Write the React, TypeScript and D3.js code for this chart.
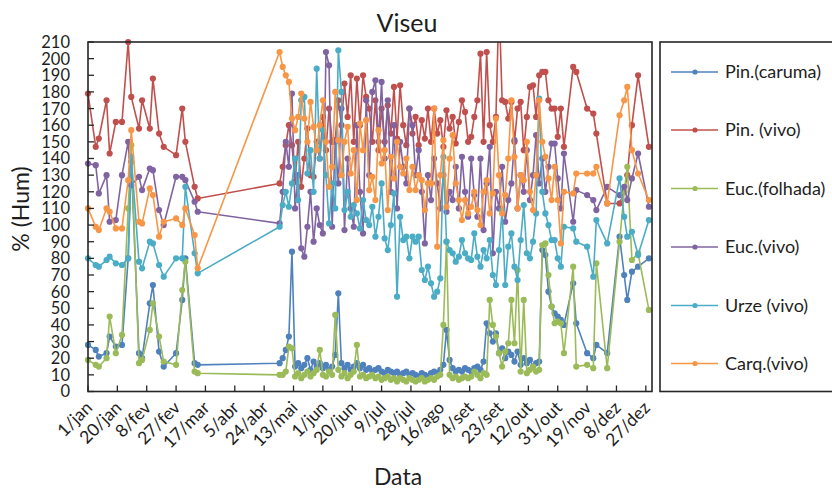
import React from "react";
import * as d3 from "d3";

// Day of year (2016, leap year; 0 = 1/jan)
const DAYS = [
  0, 5, 7, 12, 14, 18, 22, 26, 28, 33, 35, 40, 42, 46, 49, 57, 61, 63, 69, 71,
  124,
  126, 128, 130, 132, 134, 136, 138, 140, 142, 144, 146, 148, 150, 152, 154, 156, 158, 160, 162, 164,
  166, 168, 170, 172, 174, 176, 178, 180, 182, 184, 186, 188, 190, 192, 194, 196, 198, 200, 202, 204,
  206, 208, 210, 212, 214, 216, 218, 220, 222, 224, 226, 228, 230, 232, 234, 236, 238, 240, 242, 244, 246,
  248, 250, 252, 254, 256, 258, 260, 262, 264, 266, 268, 270, 272, 274, 276, 278, 280, 282, 284, 286,
  288, 290, 292, 294, 296, 298, 300,
  302, 304, 306, 308, 314, 316, 323, 327, 329, 336, 344, 347, 349, 352, 356, 363,
];

const PIN_CARUMA = [
  28, 25, 21, 23, 33, 27, 28, 80, 138, 23, 20, 53, 64, 24, 15, 23, 55, 80, 17, 16,
  17,
  20, 25, 33, 84, 15, 17, 14, 16, 20, 13, 18, 15, 17, 14, 16, 13, 15, 22, 59, 17,
  14, 16, 13, 15, 17, 14, 16, 13, 14, 12, 13, 14, 12, 11, 13, 12, 11, 12, 10, 11,
  12, 10, 11, 10, 9, 11, 10, 9, 11, 12, 11, 13, 16, 37, 19, 14, 12, 13, 12, 14, 13,
  12, 14, 15, 13, 18, 41, 35, 30, 35, 23, 26, 20, 24, 22, 18, 24, 16, 20, 17, 19,
  15, 17, 18, 85, 82, 60, 51,
  47, 45, 43, 40, 65, 41, 23, 20, 28, 23, 93, 70, 55, 72, 75, 80,
];

const PIN_VIVO = [
  179, 147, 152, 175, 143, 162, 162, 210, 177, 158, 175, 158, 188, 155, 147, 142, 170, 150, 123, 116,
  125,
  135, 148, 160, 148, 126, 150, 123, 140, 158, 130, 129, 150, 140, 165, 145, 170, 150, 151, 175, 160,
  185, 165, 190, 150, 188, 160, 190, 177, 170, 150, 175, 145, 170, 150, 172, 155, 183, 152, 184, 160,
  148, 170, 155, 165, 148, 163, 152, 170, 150, 170, 155, 163, 147, 169, 158, 165, 149, 162, 175, 168, 150,
  153, 165, 175, 203, 150, 204, 160, 150, 165, 235, 175, 174, 164, 174, 150, 170, 174, 145, 165, 183,
  184, 165, 190, 192, 192, 175, 170,
  170, 153, 170, 147, 195, 192, 170, 167, 155, 113, 113, 120, 130, 160, 190, 147,
];

const EUC_FOLHADA = [
  19, 16, 15, 20, 45, 23, 34, 110, 148, 17, 19, 37, 53, 33, 18, 16, 61, 78, 12, 11,
  10,
  10, 12, 27, 26, 9, 11, 8, 10, 12, 9, 11, 13, 25, 10, 9, 12, 10, 46, 13, 9,
  11, 8, 10, 12, 28, 9, 10, 8, 9, 10, 8, 9, 7, 8, 9, 7, 8, 6, 8, 7,
  6, 8, 7, 6, 7, 8, 6, 7, 8, 7, 9, 10, 40, 90, 10, 8, 9, 7, 8, 9, 8,
  9, 12, 10, 8, 11, 10, 55, 40, 33, 23, 15, 24, 29, 55, 29, 73, 12, 55, 11, 13,
  15, 12, 13, 88, 89, 70, 51,
  41, 42, 41, 23, 75, 15, 16, 14, 77, 14, 90, 120, 135, 79, 83, 49,
];

const EUC_VIVO = [
  137, 136, 119, 130, 102, 103, 130, 150, 124, 129, 121, 134, 133, 109, 100, 129, 129, 127, 114, 108,
  101,
  120, 150, 135, 179, 110, 130, 86, 81, 99, 120, 90, 110, 100, 95, 204, 196, 99, 150, 125, 170,
  97, 140, 110, 99, 160, 120, 95, 175, 130, 180, 187, 150, 186, 140, 175, 120, 160, 110, 150, 135,
  125, 170, 160, 130, 145, 120, 89, 130, 115, 140, 125, 110, 130, 108, 120, 115, 135, 110, 141, 120, 105,
  140, 118, 105, 140, 97, 125, 147, 83, 120, 110, 135, 102, 115, 125, 151, 110, 130, 120, 145, 115,
  130, 154, 125, 140, 120, 135, 149,
  149, 128, 110, 143, 102, 121, 118, 115, 109, 123, 118, 123, 115, 128, 143, 111,
];

const URZE_VIVO = [
  80, 76, 75, 79, 81, 77, 76, 80, 141, 78, 74, 90, 89, 76, 69, 80, 80, 123, 83, 71,
  99,
  112, 120, 111, 125, 140, 115, 175, 177, 131, 145, 120, 194, 140, 157, 130, 101, 125, 110, 205, 180,
  109, 120, 105, 112, 107, 98, 115, 103, 100, 111, 93, 105, 125, 92, 85, 100, 119, 57, 105, 91,
  93, 80, 93, 90, 93, 73, 67, 75, 65, 57, 60, 68, 141, 90, 85, 83, 78, 81, 91, 83, 80,
  79, 95, 81, 75, 85, 80, 91, 70, 64, 85, 109, 64, 87, 95, 75, 67, 91, 112, 83, 80,
  90, 107, 176, 120, 107, 100, 91,
  91, 80, 75, 99, 98, 90, 87, 69, 103, 89, 128, 105, 93, 96, 82, 103,
];

const CARQ_VIVO = [
  110, 99, 97, 110, 108, 98, 98, 127, 157, 102, 101, 122, 118, 93, 102, 104, 100, 110, 94, 74,
  204,
  195, 190, 186, 164, 157, 165, 179, 164, 150, 174, 159, 145, 160, 175, 150, 123, 135, 180, 151, 130,
  150, 159, 131, 145, 115, 161, 145, 163, 121, 129, 115, 157, 137, 145, 109, 141, 128, 150, 135, 131,
  140, 121, 135, 121, 130, 127, 109, 125, 125, 170, 87, 130, 151, 111, 140, 154, 125, 115, 103, 115, 107,
  111, 120, 109, 100, 120, 127, 107, 119, 164, 130, 107, 118, 140, 175, 141, 110, 130, 127, 150, 120,
  109, 130, 175, 150, 141, 128, 115,
  135, 115, 89, 120, 119, 131, 131, 131, 135, 113, 166, 175, 183, 145, 131, 115,
];

const SERIES_NAMES = ["Pin.(caruma)", "Pin. (vivo)", "Euc.(folhada)", "Euc.(vivo)", "Urze (vivo)", "Carq.(vivo)"];
const SERIES_VALUES = [PIN_CARUMA, PIN_VIVO, EUC_FOLHADA, EUC_VIVO, URZE_VIVO, CARQ_VIVO];
const SERIES_COLORS = ["#4F81BD", "#C0504D", "#9BBB59", "#8064A2", "#4BACC6", "#F79646"];

const X_TICK_DAYS = [0, 19, 38, 57, 76, 95, 114, 133, 152, 171, 190, 209, 228, 247, 266, 285, 304, 323, 342, 361];
const X_TICK_LABELS = ["1/jan", "20/jan", "8/fev", "27/fev", "17/mar", "5/abr", "24/abr", "13/mai", "1/jun", "20/jun",
  "9/jul", "28/jul", "16/ago", "4/set", "23/set", "12/out", "31/out", "19/nov", "8/dez", "27/dez"];
const Y_TICKS = [0, 10, 20, 30, 40, 50, 60, 70, 80, 90, 100, 110, 120, 130, 140, 150, 160, 170, 180, 190, 200, 210];

const FONT = "Lato, 'Open Sans', sans-serif";
const TEXT = "#1e1e1e";

export default function App() {
  const W = 832, H = 491;
  const L = 88, R = 652, T = 42, B = 391.5;
  const x = d3.scaleLinear().domain([0, 365]).range([L, R]);
  const y = d3.scaleLinear().domain([0, 210]).range([B, T]);
  const line = d3.line<number>()
    .x((_, i) => x(DAYS[i]))
    .y((v) => y(v));

  const legendY = [72, 130, 188.5, 247, 305.5, 363.5];

  return (
    <div style={{ position: "absolute", left: 0, top: 0 }}>
      <svg width={W} height={H} style={{ display: "block", background: "#fff" }}>
        <defs>
          <clipPath id="plotClip">
            <rect x={L} y={T} width={R - L} height={B - T} />
          </clipPath>
        </defs>
        <text x={407} y={32} textAnchor="middle" fontFamily={FONT} fontSize={25} fill={TEXT}>Viseu</text>

        {/* series */}
        {SERIES_VALUES.map((vals, si) => (
          <g key={si}>
            <path d={line(vals) || ""} fill="none" stroke={SERIES_COLORS[si]} strokeWidth={1.6}
              clipPath="url(#plotClip)" strokeLinejoin="round" />
            {vals.map((v, i) => v <= 210 ? (
              <circle key={i} cx={x(DAYS[i])} cy={y(v)} r={3.1} fill={SERIES_COLORS[si]} />
            ) : null)}
          </g>
        ))}

        {/* plot border */}
        <rect x={L} y={T} width={R - L} height={B - T} fill="none" stroke="#262626" strokeWidth={1.6} />

        {/* y ticks */}
        {Y_TICKS.map((t) => (
          <g key={t}>
            <line x1={L} x2={L + 6} y1={y(t)} y2={y(t)} stroke="#262626" strokeWidth={1.3} />
            <text x={70} y={y(t)} dy="0.36em" textAnchor="end" fontFamily={FONT} fontSize={16.5} fill={TEXT}>{t}</text>
          </g>
        ))}

        {/* x ticks */}
        {X_TICK_DAYS.map((d, i) => (
          <g key={d}>
            <line x1={x(d)} x2={x(d)} y1={B} y2={B - 6} stroke="#262626" strokeWidth={1.3} />
            <text transform={`translate(${x(d) + 1},${B + 13}) rotate(-45)`} textAnchor="end" dy="0.35em"
              fontFamily={FONT} fontSize={17.5} fill={TEXT}>{X_TICK_LABELS[i]}</text>
          </g>
        ))}

        {/* axis titles */}
        <text x={398} y={485} textAnchor="middle" fontFamily={FONT} fontSize={23} fill={TEXT}>Data</text>
        <text transform={`translate(29,209) rotate(-90)`} textAnchor="middle" fontFamily={FONT} fontSize={23} fill={TEXT}>% (Hum)</text>

        {/* legend */}
        <rect x={660} y={T} width={200} height={B - T} fill="#fff" stroke="#262626" strokeWidth={1.6} />
        {SERIES_NAMES.map((n, i) => (
          <g key={n}>
            <line x1={671} x2={718} y1={legendY[i]} y2={legendY[i]} stroke={SERIES_COLORS[i]} strokeWidth={1.6} />
            <circle cx={695} cy={legendY[i]} r={2.6} fill={SERIES_COLORS[i]} />
            <text x={725} y={legendY[i]} dy="0.36em" fontFamily={FONT} fontSize={18} fill={TEXT}>{n}</text>
          </g>
        ))}
      </svg>
    </div>
  );
}
